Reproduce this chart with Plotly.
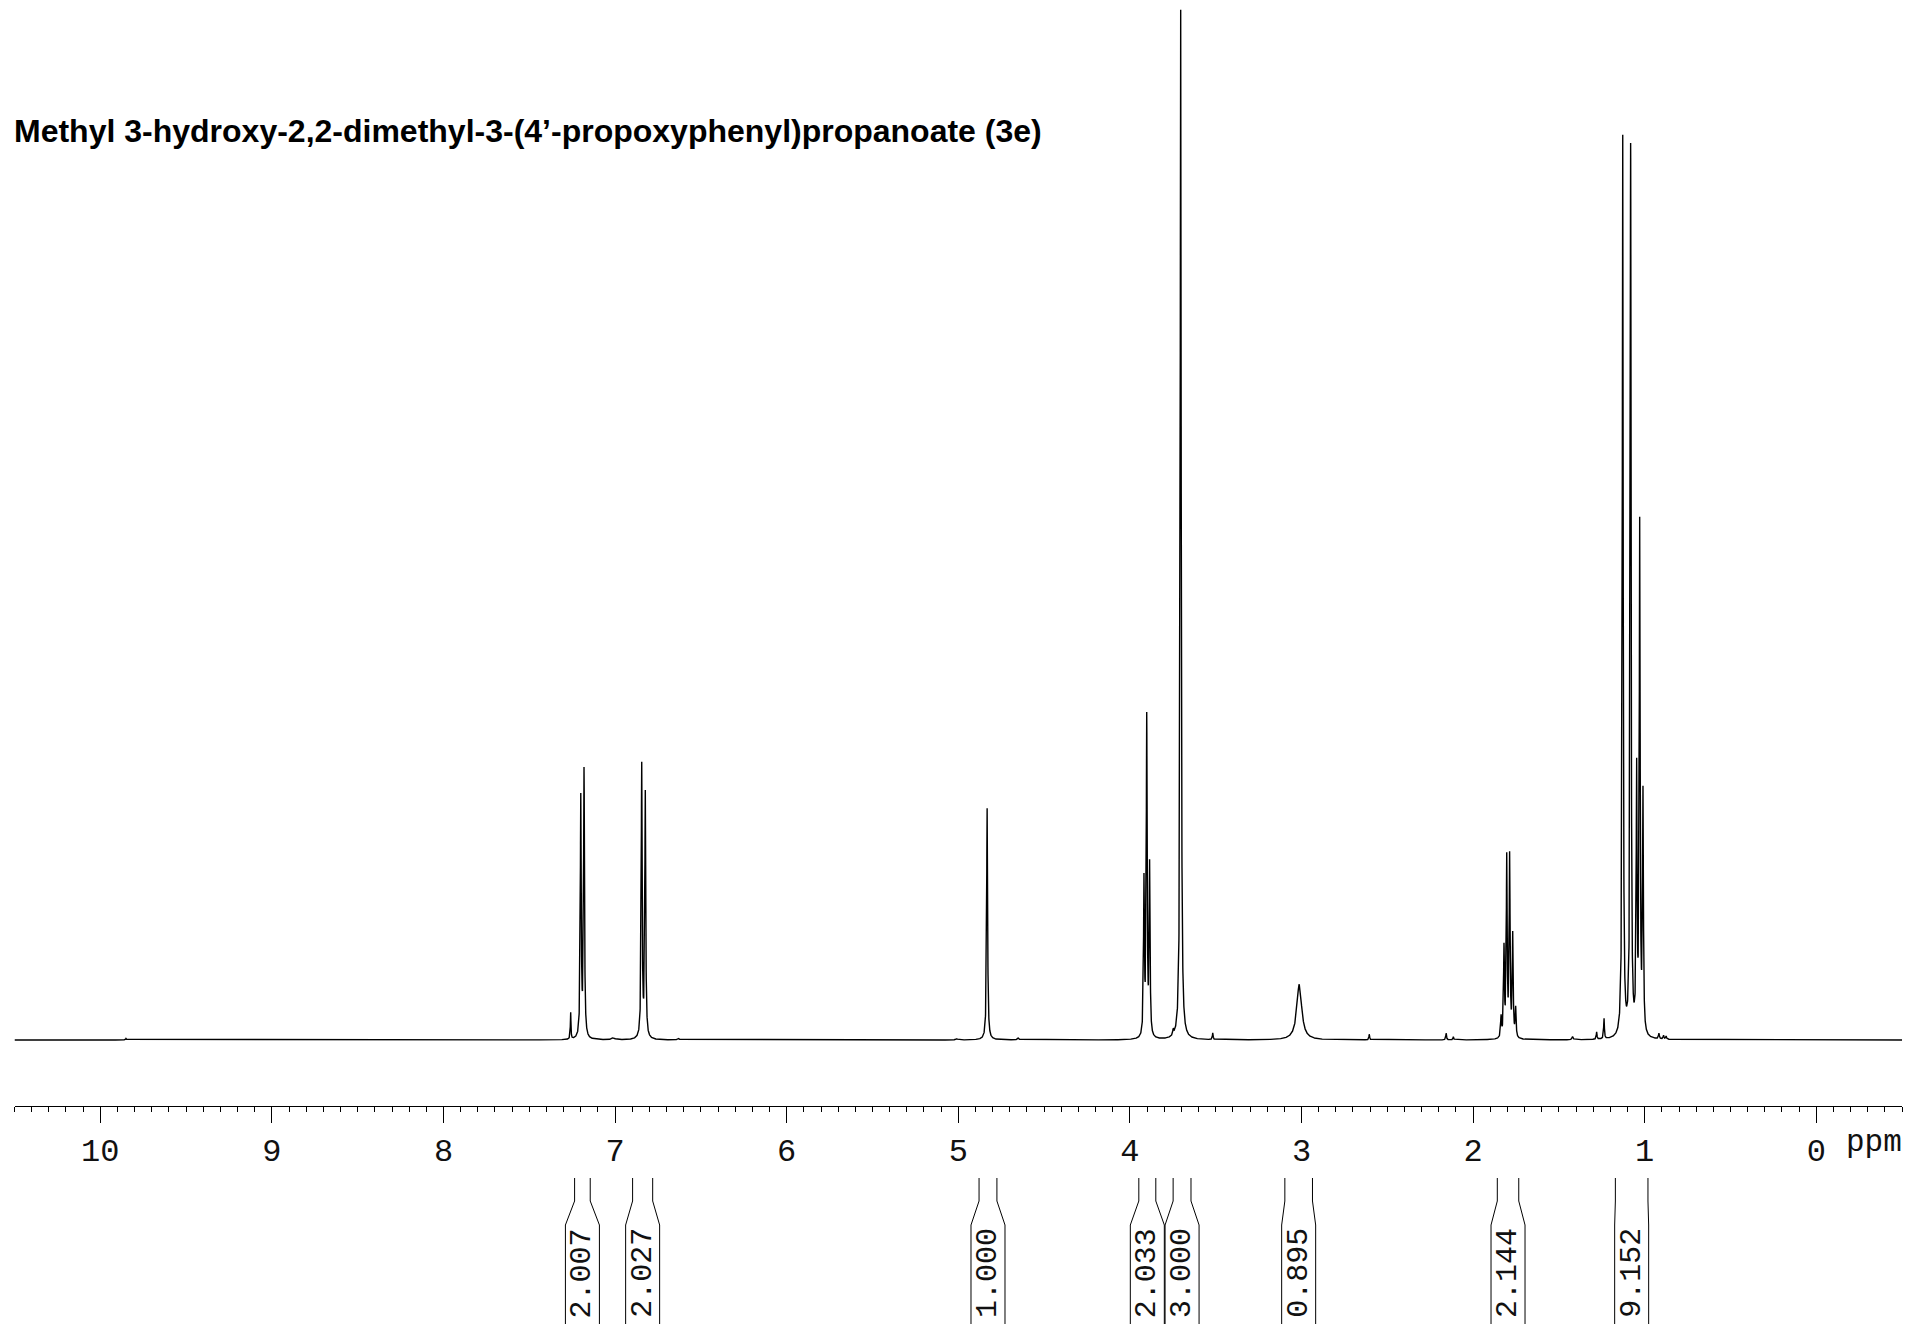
import numpy as np
import plotly.graph_objects as go

# ---------------- data ----------------
title_text = "Methyl 3-hydroxy-2,2-dimethyl-3-(4’-propoxyphenyl)propanoate (3e)"

# peak list: chemical shift (ppm), relative height (tallest = 100), line width (ppm, FWHM)
peak_ppm = [9.850, 7.259, 7.200, 7.181, 7.010, 6.845, 6.824, 6.630, 5.010, 4.832, 4.650,
            3.918, 3.902, 3.885, 3.747, 3.704, 3.517, 3.013, 2.605, 2.157, 2.115,
            1.837, 1.820, 1.804, 1.787, 1.769, 1.752, 1.420, 1.280, 1.237,
            1.128, 1.082, 1.047, 1.029, 1.010, 0.917, 0.890, 0.875]
peak_height = [0.15, 2.6, 23.3, 26.0, 0.2, 26.6, 23.7, 0.15, 0.12, 22.5, 0.2,
               15.0, 30.8, 16.5, 0.5, 100.0, 0.65, 5.4, 0.55, 0.65, 0.3,
               2.0, 8.6, 17.3, 17.5, 9.9, 2.8, 0.3, 0.7, 2.0,
               87.4, 86.3, 25.2, 49.4, 23.1, 0.55, 0.35, 0.3]
peak_width = [0.006, 0.004, 0.0062, 0.0062, 0.02, 0.0062, 0.0062, 0.01, 0.01, 0.0065, 0.01,
              0.006, 0.006, 0.006, 0.006, 0.0068, 0.005, 0.034, 0.005, 0.005, 0.005,
              0.006, 0.006, 0.006, 0.006, 0.006, 0.006, 0.008, 0.005, 0.005,
              0.0062, 0.0062, 0.006, 0.006, 0.006, 0.006, 0.006, 0.006]

# integral regions (ppm) and their values
int_left = [7.236, 6.898, 4.879, 3.948, 3.748, 3.097, 1.859, 1.171]
int_right = [7.145, 6.781, 4.775, 3.849, 3.644, 2.936, 1.734, 0.981]
int_labels = ["2.007", "2.027", "1.000", "2.033", "3.000", "0.895", "2.144", "9.152"]

# axis tick labels
tick_vals = [10, 9, 8, 7, 6, 5, 4, 3, 2, 1, 0]
tick_text = ["10", "9", "8", "7", "6", "5", "4", "3", "2", "1", "0"]

# ---------------- build spectrum from the peak list ----------------
ppm = np.arange(-0.5, 10.5 + 1e-9, 0.0004)
intensity = np.zeros_like(ppm)
for p, h, w in zip(peak_ppm, peak_height, peak_width):
    intensity += h / (1.0 + ((ppm - p) / (w / 2.0)) ** 2)

W, H = 1907, 1324
MONO = "Liberation Mono, Courier New, monospace"


def py(pix):
    """pixel row -> paper y"""
    return 1 - pix / H


fig = go.Figure()
fig.add_trace(go.Scatter(x=ppm, y=intensity, mode="lines",
                         line=dict(color="#000000", width=1.4),
                         hoverinfo="skip", showlegend=False))

# integral brackets
half_box = 17 / 171.6
shapes = []
annotations = []
y1, y2, y3, y4 = py(1178), py(1201), py(1225), py(1326)
for L, R, lab in zip(int_left, int_right, int_labels):
    c = (L + R) / 2
    for edge, box in ((L, c + half_box), (R, c - half_box)):
        shapes.append(dict(type="path", xref="x", yref="paper",
                           path=f"M {edge},{y1} L {edge},{y2} L {box},{y3} L {box},{y4}",
                           line=dict(color="#000000", width=1)))
    annotations.append(dict(x=c, y=py(1226), xref="x", yref="paper",
                            text=lab, textangle=-90, showarrow=False,
                            xanchor="center", yanchor="top",
                            font=dict(family=MONO, size=30, color="#111111")))

annotations.append(dict(x=12 / W, y=py(131), xref="paper", yref="paper",
                        text=title_text, showarrow=False, xanchor="left", yanchor="middle",
                        font=dict(family="Liberation Sans, Arial", size=32, color="#000000",
                                  weight="bold")))
annotations.append(dict(x=-0.16, y=py(1142), xref="x", yref="paper", text="ppm",
                        showarrow=False, xanchor="left", yanchor="middle",
                        font=dict(family=MONO, size=31, color="#111111")))

fig.update_layout(
    width=W, height=H,
    margin=dict(l=0, r=0, t=0, b=0),
    paper_bgcolor="white", plot_bgcolor="white",
    shapes=shapes, annotations=annotations,
    xaxis=dict(range=[10.5, -0.5], domain=[14.5 / W, 1902.1 / W],
               anchor="free", position=py(1106),
               showline=True, linecolor="#000000", linewidth=1,
               ticks="outside", ticklen=16, tickwidth=1, tickcolor="#000000",
               tickvals=tick_vals, ticktext=tick_text,
               tickfont=dict(family=MONO, size=32, color="#111111"),
               minor=dict(ticks="outside", ticklen=5, tickwidth=1, tickcolor="#000000",
                          dtick=0.1, tick0=0, showgrid=False),
               showgrid=False, zeroline=False),
    yaxis=dict(range=[-284 / 10.3, 1040 / 10.3], domain=[0, 1], visible=False,
               showgrid=False, zeroline=False),
)

fig.write_html("out.html")
